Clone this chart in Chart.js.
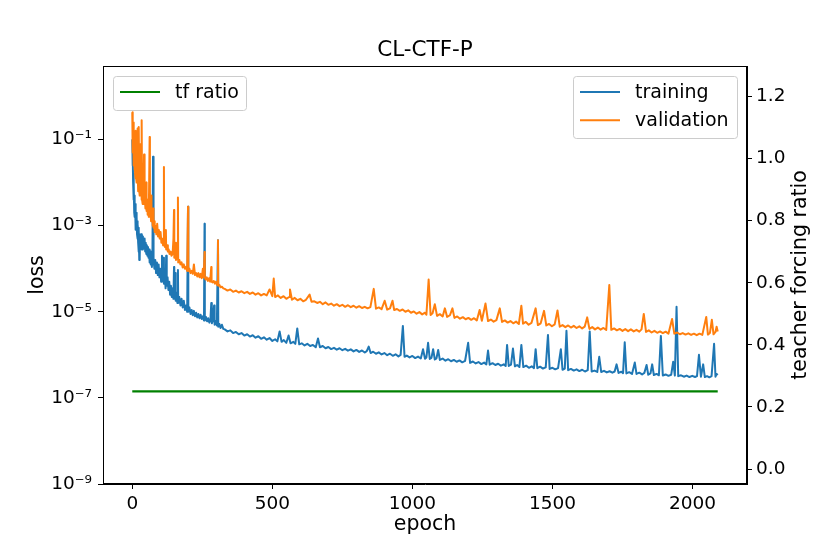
<!DOCTYPE html>
<html>
<head>
<meta charset="utf-8">
<script src="https://cdn.jsdelivr.net/npm/chart.js@4.4.1/dist/chart.umd.min.js"></script>
<style>
  html, body { margin: 0; padding: 0; background: #fff; }
  #wrap { width: 830px; height: 554px; position: relative; }
</style>
</head>
<body>
<div id="wrap"><canvas id="lossChart"></canvas></div>
<script>
// values
const chartTitle = 'CL-CTF-P';

const trainEpochs = [
  0,1,2,3,4,5,6,7,8,9,10,11,12,13,14,15,16,17,18,19,20,21,22,23,24,25,26,27,28,30,32,34,36,38,40,42,44,46,48,50,
  52,54,56,58,60,62,64,66,68,70,72,74,75,77,79,82,85,88,91,94,97,100,103,106,108,111,113,116,119,121,123,126,129,132,
  135,138,141,144,147,149,150,153,155,158,161,163,164,168,172,176,180,184,188,192,196,199,200,204,208,212,216,220,224,
  228,232,236,240,244,248,252,256,258,259,263,267,271,275,279,282,284,288,292,294,298,302,306,307,311,315,320,325,
  330,340,350,360,370,380,390,400,410,420,430,440,450,460,470,480,490,500,510,518,526,533,541,550,558,565,575,582,589,
  596,605,615,625,635,645,655,663,670,680,690,700,710,720,730,740,750,760,770,780,790,800,810,820,830,837,844,851,860,
  870,880,890,900,910,920,930,940,950,958,966,972,980,990,1000,1010,1020,1030,1038,1045,1050,1056,1062,1068,1074,1080,
  1086,1092,1098,1108,1118,1128,1138,1148,1158,1168,1178,1188,1199,1206,1216,1226,1236,1246,1256,1264,1270,1276,1286,
  1296,1306,1316,1326,1333,1338,1344,1352,1359,1366,1374,1382,1389,1396,1406,1416,1426,1434,1440,1446,1456,1466,1476,
  1484,1490,1500,1510,1520,1530,1536,1544,1550,1556,1566,1576,1586,1596,1606,1616,1626,1633,1640,1650,1660,1667,1674,
  1684,1694,1704,1714,1722,1729,1736,1746,1752,1758,1764,1774,1784,1794,1800,1810,1820,1828,1836,1842,1850,1856,1862,
  1872,1880,1887,1894,1904,1914,1924,1931,1937,1943,1949,1959,1969,1979,1989,1999,2009,2016,2023,2030,2038,2044,2052,
  2060,2068,2077,2082,2086,2090
];
const trainLoss = [
  1.0e-1,2.5e-2,5.0e-2,1.0e-2,1.6e-2,4.0e-3,1.0e-2,2.0e-3,5.0e-3,1.6e-3,3.2e-3,1.0e-3,2.5e-3,8.0e-4,2.0e-3,8.0e-4,
  1.6e-3,6.3e-4,1.26e-3,5.0e-4,1.0e-3,4.0e-4,8.9e-4,2.5e-4,7.9e-4,1.6e-4,6.3e-4,1.8e-4,5.6e-4,3.2e-4,6.3e-4,2.8e-4,
  5.6e-4,2.8e-4,4.5e-4,3.2e-4,5.0e-4,2.5e-4,4.0e-4,2.2e-4,3.5e-4,2.0e-4,3.2e-4,1.8e-4,2.8e-4,1.4e-4,2.5e-4,1.26e-4,
  2.2e-4,1.1e-4,2.0e-4,4.0e-2,1.26e-4,1.8e-4,1.0e-4,1.6e-4,7.9e-5,1.4e-4,7.1e-5,1.26e-4,6.3e-5,1.0e-4,5.0e-5,2.0e-4,
  5.6e-5,1.8e-4,4.5e-5,7.1e-5,3.5e-5,2.0e-4,4.0e-5,6.3e-5,3.2e-5,5.0e-5,2.5e-5,4.0e-5,2.2e-5,3.5e-5,2.0e-5,1.1e-4,
  2.0e-5,7.9e-5,1.8e-5,2.8e-5,1.6e-5,9.3e-5,1.6e-5,2.2e-5,1.4e-5,2.0e-5,1.26e-5,1.8e-5,1.1e-5,1.4e-5,1.0e-5,2.75e-3,
  1.0e-5,1.26e-5,8.9e-6,1.1e-5,8.3e-6,1.05e-5,7.9e-6,9.5e-6,7.4e-6,8.9e-6,7.1e-6,8.5e-6,6.8e-6,7.9e-6,6.3e-6,1.1e-3,
  6.3e-6,7.6e-6,6.0e-6,7.1e-6,5.6e-6,6.6e-6,1.6e-5,5.4e-6,6.3e-6,1.4e-5,5.0e-6,6.0e-6,4.8e-6,4.6e-4,4.5e-6,5.2e-6,
  4.2e-6,5.0e-6,4.0e-6,
  3.9e-6,3.5e-6,3.7e-6,3.2e-6,3.4e-6,3.0e-6,3.2e-6,2.8e-6,3.0e-6,2.65e-6,2.85e-6,2.5e-6,2.7e-6,2.35e-6,2.55e-6,
  2.25e-6,2.45e-6,2.1e-6,2.3e-6,2.05e-6,3.5e-6,2.0e-6,2.2e-6,1.9e-6,2.8e-6,1.85e-6,2.0e-6,1.8e-6,4.1e-6,1.75e-6,
  1.85e-6,1.65e-6,1.8e-6,1.6e-6,1.7e-6,1.5e-6,2.4e-6,1.5e-6,1.6e-6,1.42e-6,1.52e-6,1.36e-6,1.45e-6,1.32e-6,1.42e-6,
  1.28e-6,1.38e-6,1.25e-6,1.34e-6,1.2e-6,1.3e-6,1.17e-6,1.26e-6,1.13e-6,1.22e-6,1.55e-6,1.1e-6,1.18e-6,1.06e-6,
  1.14e-6,1.02e-6,1.1e-6,9.8e-7,1.06e-6,9.5e-7,1.03e-6,9.2e-7,1.0e-6,4.7e-6,9.0e-7,9.6e-7,8.7e-7,9.4e-7,8.4e-7,
  9.1e-7,8.2e-7,1.35e-6,8.1e-7,8.7e-7,1.9e-6,8.0e-7,8.5e-7,1.35e-6,7.8e-7,8.3e-7,1.3e-6,7.6e-7,8.2e-7,7.3e-7,7.9e-7,
  7.1e-7,7.6e-7,6.9e-7,7.4e-7,6.7e-7,7.2e-7,1.9e-6,6.5e-7,7.0e-7,6.3e-7,6.8e-7,6.1e-7,6.6e-7,6.0e-7,1.26e-6,5.9e-7,
  6.4e-7,5.8e-7,6.2e-7,5.6e-7,6.0e-7,5.5e-7,1.7e-6,5.5e-7,5.9e-7,1.4e-6,5.4e-7,5.8e-7,5.2e-7,1.7e-6,5.2e-7,5.6e-7,
  5.0e-7,5.4e-7,4.9e-7,1.35e-6,4.9e-7,5.3e-7,4.8e-7,5.1e-7,2.9e-6,4.7e-7,5.0e-7,4.6e-7,4.9e-7,1.35e-6,4.5e-7,4.8e-7,
  3.6e-6,4.4e-7,4.7e-7,4.3e-7,4.6e-7,4.2e-7,4.5e-7,4.1e-7,4.4e-7,3.5e-6,4.1e-7,4.3e-7,4.0e-7,9.0e-7,4.0e-7,4.25e-7,
  3.9e-7,4.15e-7,3.85e-7,4.1e-7,6.0e-7,3.8e-7,4.05e-7,3.75e-7,1.95e-6,3.7e-7,3.95e-7,3.6e-7,6.6e-7,3.6e-7,3.85e-7,
  3.5e-7,3.8e-7,5.8e-7,3.45e-7,3.7e-7,6.0e-7,3.4e-7,3.6e-7,3.35e-7,2.75e-6,3.3e-7,3.5e-7,3.25e-7,3.45e-7,6.9e-7,
  3.3e-7,1.3e-5,3.2e-7,3.35e-7,3.1e-7,3.3e-7,3.05e-7,3.25e-7,3.05e-7,3.2e-7,1.0e-6,3.1e-7,6.0e-7,3.05e-7,3.2e-7,
  3.0e-7,3.2e-7,1.8e-6,3.1e-7,3.6e-7,3.4e-7
];

const valEpochs = [
  0,1,2,3,4,5,6,7,8,9,10,11,12,13,14,15,16,17,18,19,20,21,22,23,24,25,26,27,28,29,30,31,32,33,34,35,36,37,38,39,40,
  42,43,45,47,50,51,53,55,57,59,62,63,65,67,68,69,71,73,74,76,78,80,83,86,89,92,95,98,101,104,107,110,113,114,117,120,
  121,124,127,130,133,137,140,144,147,149,150,153,156,160,163,164,168,172,176,180,184,188,192,196,199,200,204,208,212,
  216,220,224,228,232,236,240,244,248,252,255,258,259,262,266,270,274,278,282,283,287,291,295,299,303,306,307,311,315,
  320,325,
  330,340,350,360,370,380,390,400,410,420,430,440,450,460,470,480,490,500,505,510,520,530,540,550,560,563,570,580,590,
  600,610,620,633,640,650,660,670,680,690,700,710,720,730,740,750,760,770,780,790,800,810,820,830,840,850,862,870,880,
  890,901,910,920,929,935,945,955,965,975,985,995,1005,1015,1025,1035,1045,1050,1058,1065,1072,1080,1088,1098,1108,
  1116,1124,1134,1143,1150,1160,1170,1180,1190,1200,1210,1220,1230,1240,1248,1261,1270,1280,1290,1300,1312,1320,1330,
  1340,1350,1360,1370,1380,1389,1395,1405,1415,1425,1440,1448,1458,1470,1478,1488,1498,1508,1518,1526,1536,1546,1556,
  1566,1576,1586,1596,1606,1615,1624,1632,1642,1652,1662,1672,1682,1692,1703,1710,1720,1730,1740,1750,1760,1770,1780,
  1790,1800,1810,1818,1826,1834,1844,1854,1864,1874,1884,1894,1904,1914,1927,1935,1945,1955,1965,1975,1985,1995,2005,
  2015,2025,2035,2049,2055,2062,2069,2075,2082,2086,2090
];
const valLoss = [
  4.3e-1,1.26e-1,5.0e-2,2.5e-1,3.2e-2,7.9e-2,2.5e-2,1.0e-1,2.0e-2,6.3e-2,1.6e-2,5.0e-2,1.26e-2,1.6e-1,1.26e-2,4.0e-2,
  1.0e-2,3.2e-2,1.8e-1,1.0e-2,2.5e-2,6.3e-3,2.0e-2,6.3e-3,1.95e-1,6.3e-3,1.6e-2,5.0e-3,1.26e-2,5.0e-3,7.9e-2,5.0e-3,
  1.0e-2,4.0e-3,2.8e-1,4.0e-3,1.0e-2,3.2e-3,7.9e-3,3.2e-3,6.3e-3,4.5e-2,3.2e-3,5.0e-3,2.5e-3,1.0e-2,2.2e-3,4.0e-3,
  1.8e-3,3.2e-3,1.6e-3,1.15e-1,1.6e-3,2.5e-3,1.26e-3,5.0e-3,1.26e-3,1.8e-3,1.0e-3,2.5e-3,8.9e-4,1.26e-3,7.1e-4,
  1.0e-3,6.3e-4,1.1e-3,5.6e-4,7.9e-4,5.0e-4,7.1e-4,4.0e-4,5.0e-4,3.5e-4,2.3e-2,3.5e-4,3.2e-4,7.9e-4,2.8e-4,3.5e-4,
  2.5e-4,2.8e-4,2.2e-4,2.5e-4,2.0e-4,2.2e-4,5.0e-4,2.3e-3,1.8e-4,4.0e-4,1.6e-4,1.8e-4,4.5e-3,1.4e-4,1.6e-4,1.26e-4,
  1.4e-4,1.07e-4,1.26e-4,1.0e-4,1.1e-4,8.9e-5,2.75e-3,8.9e-5,1.0e-4,7.9e-5,8.9e-5,7.6e-5,1.26e-4,7.1e-5,7.9e-5,
  6.6e-5,7.9e-5,6.3e-5,7.6e-5,6.0e-5,1.0e-4,6.3e-5,2.45e-4,6.3e-5,5.6e-5,6.3e-5,5.2e-5,6.0e-5,5.0e-5,1.1e-4,5.0e-5,
  4.8e-5,5.2e-5,4.5e-5,5.0e-5,4.2e-5,4.6e-4,4.0e-5,4.2e-5,3.7e-5,3.8e-5,3.5e-5,
  3.4e-5,3.1e-5,3.3e-5,2.9e-5,3.1e-5,2.8e-5,3.0e-5,2.7e-5,2.9e-5,2.6e-5,2.8e-5,2.5e-5,2.7e-5,2.4e-5,2.6e-5,2.4e-5,
  3.3e-5,2.3e-5,5.9e-5,2.2e-5,2.4e-5,2.1e-5,2.3e-5,2.0e-5,2.2e-5,3.3e-5,1.9e-5,2.1e-5,1.85e-5,2.0e-5,1.75e-5,1.9e-5,
  2.5e-5,1.7e-5,1.75e-5,1.6e-5,1.7e-5,1.5e-5,1.65e-5,1.45e-5,1.55e-5,1.38e-5,1.5e-5,1.35e-5,1.45e-5,1.3e-5,1.42e-5,
  1.28e-5,1.38e-5,1.24e-5,1.35e-5,1.22e-5,1.3e-5,1.2e-5,1.28e-5,3.4e-5,1.18e-5,1.26e-5,1.15e-5,1.8e-5,1.12e-5,1.2e-5,
  1.8e-5,1.1e-5,1.16e-5,1.05e-5,1.13e-5,1.0e-5,1.08e-5,9.5e-6,1.02e-5,9.0e-6,9.8e-6,8.7e-6,9.5e-6,8.5e-6,5.6e-5,
  8.4e-6,9.2e-6,1.5e-5,8.0e-6,8.8e-6,7.8e-6,1.2e-5,7.6e-6,8.3e-6,1.2e-5,7.2e-6,7.8e-6,6.9e-6,7.5e-6,6.7e-6,7.2e-6,
  6.5e-6,7.1e-6,6.3e-6,1.1e-5,6.2e-6,1.55e-5,6.1e-6,6.6e-6,5.9e-6,6.4e-6,1.2e-5,5.8e-6,6.3e-6,5.6e-6,6.1e-6,5.4e-6,
  5.9e-6,5.2e-6,1.38e-5,5.3e-6,5.8e-6,5.0e-6,5.5e-6,1.2e-5,4.9e-6,5.4e-6,1.05e-5,4.8e-6,5.2e-6,4.6e-6,5.1e-6,
  1.07e-5,4.5e-6,4.9e-6,4.4e-6,4.8e-6,4.3e-6,4.7e-6,4.2e-6,4.6e-6,4.1e-6,4.5e-6,7.4e-6,4.0e-6,4.4e-6,3.9e-6,4.3e-6,
  3.85e-6,4.2e-6,3.8e-6,4.2e-5,3.8e-6,4.1e-6,3.7e-6,4.0e-6,3.6e-6,3.95e-6,3.55e-6,3.9e-6,3.5e-6,3.8e-6,3.45e-6,
  3.9e-6,8.9e-6,3.4e-6,3.7e-6,3.3e-6,3.6e-6,3.25e-6,3.5e-6,3.2e-6,3.45e-6,3.1e-6,6.8e-6,3.1e-6,3.3e-6,3.0e-6,
  3.2e-6,2.95e-6,3.15e-6,2.9e-6,3.1e-6,2.85e-6,3.1e-6,2.9e-6,7.6e-6,2.95e-6,3.2e-6,6.5e-6,3.0e-6,3.4e-6,4.5e-6,3.5e-6
];

const tfEpochs = [0, 2090];
const tfRatio = [0.25, 0.25];

const epochTicks = [0, 500, 1000, 1500, 2000];
const lossTicks = [1e-9, 1e-7, 1e-5, 1e-3, 1e-1];
const ratioTicks = [0.0, 0.2, 0.4, 0.6, 0.8, 1.0, 1.2];

const sup = {'-': '\u207B', '0': '\u2070', '1': '\u00B9', '2': '\u00B2', '3': '\u00B3', '4': '\u2074',
             '5': '\u2075', '6': '\u2076', '7': '\u2077', '8': '\u2078', '9': '\u2079'};
function powLabel(v) {
  const e = String(Math.round(Math.log10(v)));
  return '10' + e.split('').map(c => sup[c]).join('');
}

function pairs(xs, ys) {
  return xs.map((x, i) => ({x: x, y: ys[i]}));
}

const FONT = '"DejaVu Sans", sans-serif';

// matplotlib-style frame, title, two legend boxes, right-hand axis label
const decorations = {
  id: 'decorations',
  afterDraw(chart) {
    const ctx = chart.ctx;
    const a = chart.chartArea;
    const ds = chart.data.datasets;
    ctx.save();
    ctx.strokeStyle = '#000';
    ctx.lineWidth = 1;
    ctx.strokeRect(Math.round(a.left) + 0.5, Math.round(a.top) + 0.5,
                   Math.round(a.right - a.left) - 1, Math.round(a.bottom - a.top) - 1);

    ctx.fillStyle = '#000';
    ctx.font = '21.5px ' + FONT;
    ctx.textAlign = 'center';
    ctx.textBaseline = 'alphabetic';
    ctx.fillText(chartTitle, (a.left + a.right) / 2, 56);

    function legendBox(x, y, w, h, items) {
      ctx.beginPath();
      ctx.roundRect(x + 0.5, y + 0.5, w, h, 3);
      ctx.fillStyle = 'rgba(255,255,255,0.8)';
      ctx.fill();
      ctx.strokeStyle = '#cccccc';
      ctx.lineWidth = 1;
      ctx.stroke();
      items.forEach((d, i) => {
        const ly = y + 16 + i * 28.3;
        ctx.beginPath();
        ctx.moveTo(x + 7, ly);
        ctx.lineTo(x + 47, ly);
        ctx.strokeStyle = d.borderColor;
        ctx.lineWidth = 2;
        ctx.stroke();
        ctx.fillStyle = '#000';
        ctx.font = '19px ' + FONT;
        ctx.textAlign = 'left';
        ctx.textBaseline = 'middle';
        ctx.fillText(d.label, x + 62, ly + 1);
      });
    }
    legendBox(113, 76, 133, 34, [ds[2]]);
    legendBox(573, 76, 164, 62, [ds[0], ds[1]]);

    ctx.translate(801, (a.top + a.bottom) / 2);
    ctx.rotate(-Math.PI / 2);
    ctx.fillStyle = '#000';
    ctx.font = '20.5px ' + FONT;
    ctx.textAlign = 'center';
    ctx.textBaseline = 'middle';
    ctx.fillText('teacher forcing ratio', 0, 0);
    ctx.restore();
  }
};

const tickFont = {family: FONT, size: 18.5};
const axisGrid = {drawOnChartArea: false, drawTicks: true, tickLength: 5, tickColor: '#000', tickWidth: 1};
const axisBorder = {display: true, color: '#000', width: 1};

new Chart(document.getElementById('lossChart'), {
  type: 'line',
  data: {
    datasets: [{
      label: 'training',
      data: pairs(trainEpochs, trainLoss),
      borderColor: '#1f77b4',
      borderWidth: 2,
      yAxisID: 'y',
      order: 2
    }, {
      label: 'validation',
      data: pairs(valEpochs, valLoss),
      borderColor: '#ff7f0e',
      borderWidth: 2,
      yAxisID: 'y',
      order: 1
    }, {
      label: 'tf ratio',
      data: pairs(tfEpochs, tfRatio),
      borderColor: '#008000',
      borderWidth: 2.2,
      yAxisID: 'y1',
      order: 0
    }]
  },
  options: {
    responsive: true,
    maintainAspectRatio: false,
    animation: false,
    devicePixelRatio: 1,
    layout: {padding: {top: 66, left: 0, right: 0, bottom: 0}},
    elements: {point: {radius: 0}, line: {tension: 0, fill: false, borderJoinStyle: 'round'}},
    plugins: {legend: {display: false}, tooltip: {enabled: false}, title: {display: false}},
    scales: {
      x: {
        type: 'linear',
        position: 'bottom',
        min: -104.5,
        max: 2194.5,
        bounds: 'data',
        afterBuildTicks: s => { s.ticks = epochTicks.map(v => ({value: v})); },
        afterFit: s => { s.height = 70; },
        ticks: {font: tickFont, color: '#000', padding: 4, autoSkip: false, maxRotation: 0,
                callback: v => String(v)},
        grid: axisGrid,
        border: axisBorder,
        title: {display: true, text: 'epoch', color: '#000', font: {family: FONT, size: 20.5},
                padding: {top: 0, bottom: 17}}
      },
      y: {
        type: 'logarithmic',
        position: 'left',
        min: 1e-9,
        max: 5.1,
        bounds: 'data',
        afterBuildTicks: s => { s.ticks = lossTicks.map(v => ({value: v})); },
        afterFit: s => { s.width = 103; },
        ticks: {font: tickFont, color: '#000', padding: 6, autoSkip: false, callback: v => powLabel(v)},
        grid: axisGrid,
        border: axisBorder,
        title: {display: true, text: 'loss', color: '#000', font: {family: FONT, size: 20.5},
                padding: {top: 25, bottom: 0}}
      },
      y1: {
        type: 'linear',
        position: 'right',
        min: -0.048,
        max: 1.298,
        bounds: 'data',
        afterBuildTicks: s => { s.ticks = ratioTicks.map(v => ({value: v})); },
        afterFit: s => { s.width = 83; },
        ticks: {font: tickFont, color: '#000', padding: 4, autoSkip: false, callback: v => v.toFixed(1)},
        grid: axisGrid,
        border: axisBorder
      }
    }
  },
  plugins: [decorations]
});
</script>
</body>
</html>
